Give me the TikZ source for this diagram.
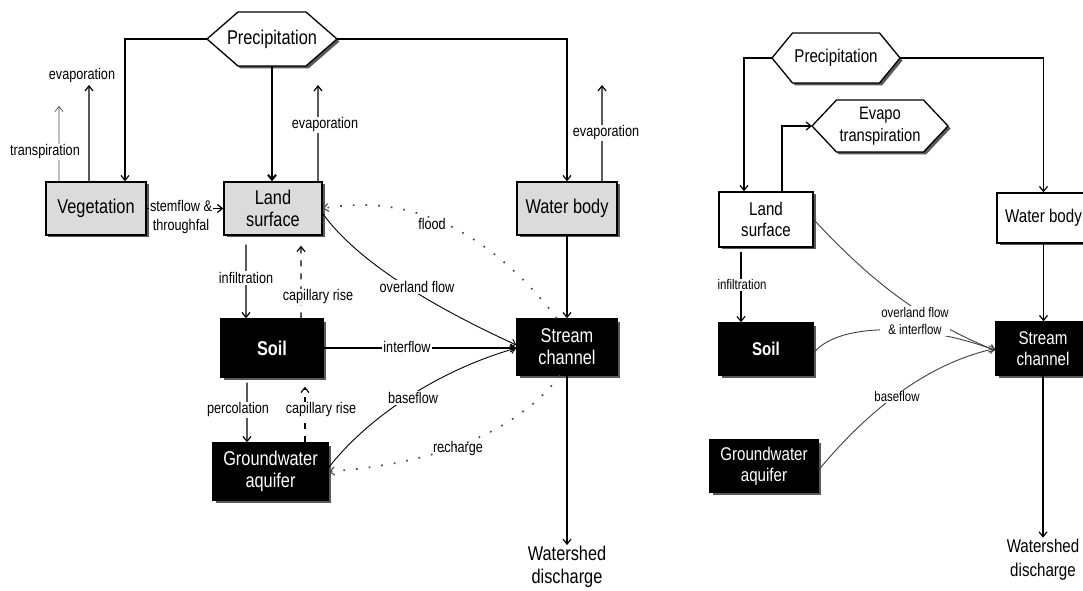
\documentclass[tikz,border=0pt]{standalone}
\usepackage{fontspec}
\setmainfont{Liberation Sans}[FakeStretch=0.82]
\usetikzlibrary{arrows.meta,shadows}
\newcommand{\fA}{\fontsize{20}{22}\selectfont}
\newcommand{\fB}{\fontsize{15.5}{19}\selectfont}
\newcommand{\fC}{\fontsize{18.5}{21}\selectfont}
\newcommand{\fD}{\fontsize{14}{17}\selectfont}
\newcommand{\hexat}[4]{%
  \draw[hexshape] ([shift={(-#2,-#3)}]#1) -- ([shift={(#2,-#3)}]#1) -- ([shift={(#2+#4,0)}]#1)
    -- ([shift={(#2,#3)}]#1) -- ([shift={(-#2,#3)}]#1) -- ([shift={(-#2-#4,0)}]#1) -- cycle;
  \coordinate (#1-w) at ([shift={(-#2-#4,0)}]#1);
  \coordinate (#1-e) at ([shift={(#2+#4,0)}]#1);
  \coordinate (#1-s) at ([shift={(0,#3)}]#1);
}
\tikzset{
  shad/.style={drop shadow={shadow xshift=2.5bp,shadow yshift=-2.5bp,fill=black!65,opacity=1}},
  box/.style={draw=black, line width=1.3bp, align=center, inner sep=1bp, shad},
  graybox/.style={box, fill=black!14, font=\fA},
  blackbox/.style={box, fill=black, text=white, font=\fA},
  wbox/.style={box, fill=white, font=\fC},
  bbox/.style={box, fill=black, text=white, font=\fC},
  hexshape/.style={draw=black, line width=1.3bp, fill=white, line join=miter, shad},
  ln/.style={draw=black, line width=1.2bp},
  arr/.style={ln, -{Straight Barb[length=5bp,width=8bp]}},
  thinarr/.style={draw=black!70, line width=0.7bp, -{Straight Barb[length=5bp,width=8bp]}},
  rcurve/.style={draw=black!75, line width=0.9bp, -{Straight Barb[length=5bp,width=8bp]}},
  dasharr/.style={arr, dash pattern=on 6bp off 7bp},
  dotarr/.style={draw=black!70, line width=1.7bp, dash pattern=on 1.7bp off 11bp,
     -{Straight Barb[length=5bp,width=8bp,line width=1.1bp]}},
  lab/.style={fill=white, font=\fB, inner sep=1bp, align=center},
  labR/.style={fill=white, font=\fD, inner sep=1bp, align=center},
}
\begin{document}
\begin{tikzpicture}[x=1bp,y=-1bp]
\useasboundingbox (0,0) rectangle (1083,591);
\begin{scope}
\clip (0,0) rectangle (1083,591);
\fill[white] (0,0) rectangle (1083,591);

% ---------------- left diagram ----------------
\coordinate (pre) at (272,39);
\hexat{pre}{34}{27}{31}
\node[font=\fA] (pret) at (pre) {Precipitation};

\node[graybox, minimum width=100bp, minimum height=53bp] (veg) at (96,208.5) {Vegetation};
\node[graybox, minimum width=98bp, minimum height=53bp] (land) at (273,208.5) {Land\\surface};
\node[graybox, minimum width=100bp, minimum height=53bp] (wat) at (567,208.5) {Water body};
\node[blackbox, minimum width=102bp, minimum height=58bp, font=\fA\bfseries] (soil) at (272,348) {Soil};
\node[blackbox, minimum width=100bp, minimum height=56bp] (str) at (567,347) {Stream\\channel};
\node[blackbox, minimum width=115bp, minimum height=57bp] (gw) at (270.5,471.5) {Groundwater\\aquifer};
\node[align=center, font=\fontsize{20}{23}\selectfont, inner sep=1bp] (ws) at (567,567) {Watershed\\discharge};

\coordinate (vetip) at (89,85);
\coordinate (vttip) at (59,106);
\coordinate (letip) at (318,85);
\coordinate (wetip) at (602,85);

\draw[arr] (pre-w) -| ([xshift=29bp]veg.north);
\draw[arr] (pre-e) -| (wat.north);
\draw[arr, line width=2bp] (pre-s) -- (pre-s |- land.north);
\draw[arr] ([xshift=-7bp]veg.north) -- (vetip);
\draw[thinarr] ([xshift=-37bp]veg.north) -- (vttip);
\draw[arr] ([xshift=45bp]land.north) -- (letip);
\draw[arr] ([xshift=35bp]wat.north) -- (wetip);
\draw[arr] (veg.east) -- (land.west);
\draw[arr] ([xshift=-27bp,yshift=-9bp]land.south) -- ([xshift=-26bp]soil.north);
\draw[dasharr] ([xshift=29bp]soil.north) -- ([xshift=28bp,yshift=-10bp]land.south);
\draw[arr] ([xshift=-25bp,yshift=-5bp]soil.south) -- ([xshift=-23.5bp]gw.north);
\draw[dasharr] ([xshift=34.5bp]gw.north) -- ([xshift=33bp,yshift=-9bp]soil.south);
\draw[arr] (soil.east) -- (soil.east -| str.west);
\draw[arr] (wat.south) -- (str.north);
\draw[arr] (str.south) -- (ws.north);
\draw[arr, line width=0.9bp] ([yshift=-5bp]land.east) .. controls (360,265) and (440,310) .. ([yshift=2bp]str.west);
\draw[arr, line width=0.9bp] ([yshift=4bp]gw.east) .. controls (370,415) and (440,370) .. ([yshift=-1bp]str.west);
\draw[dotarr] ([xshift=-10bp]str.north) .. controls (480,220) and (400,195) .. (land.east);
\draw[dotarr] ([xshift=-7bp]str.south) .. controls (510,440) and (420,465) .. (gw.east);

\node[lab] (lve) at (82,76) {evaporation};
\node[lab] (lvt) at (45,152) {transpiration};
\node[lab] (lle) at (325,125) {evaporation};
\node[lab] (lwe) at (606,133) {evaporation};
\node[lab] (lst) at (181,217) {stemflow \&\\throughfal};
\node[lab] (linf) at (246,278) {infiltration};
\node[lab] (lcap1) at (318,297) {capillary rise};
\node[lab] (lper) at (238,410) {percolation};
\node[lab] (lcap2) at (321,410) {capillary rise};
\node[lab] (lint) at (407,346.5) {interflow};
\node[lab] (lov) at (417,287) {overland flow};
\node[lab] (lbf) at (413,398) {baseflow};
\node[font=\fB, inner sep=1bp] (lfl) at (432,224) {flood};
\node[font=\fB, inner sep=1bp] (lrc) at (458,449) {recharge};

% ---------------- right diagram ----------------
\coordinate (preR) at (836,58);
\hexat{preR}{43.5}{25}{20.5}
\node[font=\fC] (preRt) at (preR) {Precipitation};
\coordinate (evt) at (880,126);
\hexat{evt}{43.5}{26}{24.5}
\node[font=\fontsize{18}{22}\selectfont, align=center] (evtt) at (evt) {Evapo\\transpiration};

\node[wbox, minimum width=94bp, minimum height=55bp] (landR) at (766,219.5) {Land\\surface};
\node[wbox, minimum width=93bp, minimum height=50bp] (watR) at (1043.5,218) {Water body};
\node[bbox, minimum width=94bp, minimum height=52bp, font=\fC\bfseries] (soilR) at (766,349) {Soil};
\node[bbox, minimum width=94bp, minimum height=53bp] (strR) at (1043,348.5) {Stream\\channel};
\node[bbox, minimum width=108bp, minimum height=52bp] (gwR) at (764,466) {Groundwater\\aquifer};
\node[align=center, font=\fontsize{18.5}{24}\selectfont, inner sep=1bp] (wsR) at (1043,559.5) {Watershed\\discharge};

\draw[arr] (preR-w) -| ([xshift=-22bp]landR.north);
\draw[arr] (preR-e) -| (watR.north);
\draw[arr] ([xshift=16bp]landR.north) |- (evt-w);
\draw[arr] ([xshift=-25bp,yshift=-4bp]landR.south) -- ([xshift=-25bp]soilR.north);
\draw[arr] (watR.south) -- (watR.south |- strR.north);
\draw[arr] (strR.south) -- (wsR.north);
\draw[rcurve] (landR.east) .. controls (870,280) and (920,320) .. ([yshift=-2bp]strR.west);
\draw[rcurve] ([yshift=-4bp]soilR.east) .. controls (840,320) and (930,325) .. ([yshift=-2bp]strR.west);
\draw[rcurve] ([yshift=-4bp]gwR.east) .. controls (860,420) and (920,365) .. (strR.west);

\node[labR] (lRinf) at (742,285) {infiltration};
\node[labR] (lRov) at (915,321) {overland flow\\\& interflow};
\node[labR] (lRbf) at (897,397) {baseflow};
\end{scope}
\end{tikzpicture}
\end{document}
